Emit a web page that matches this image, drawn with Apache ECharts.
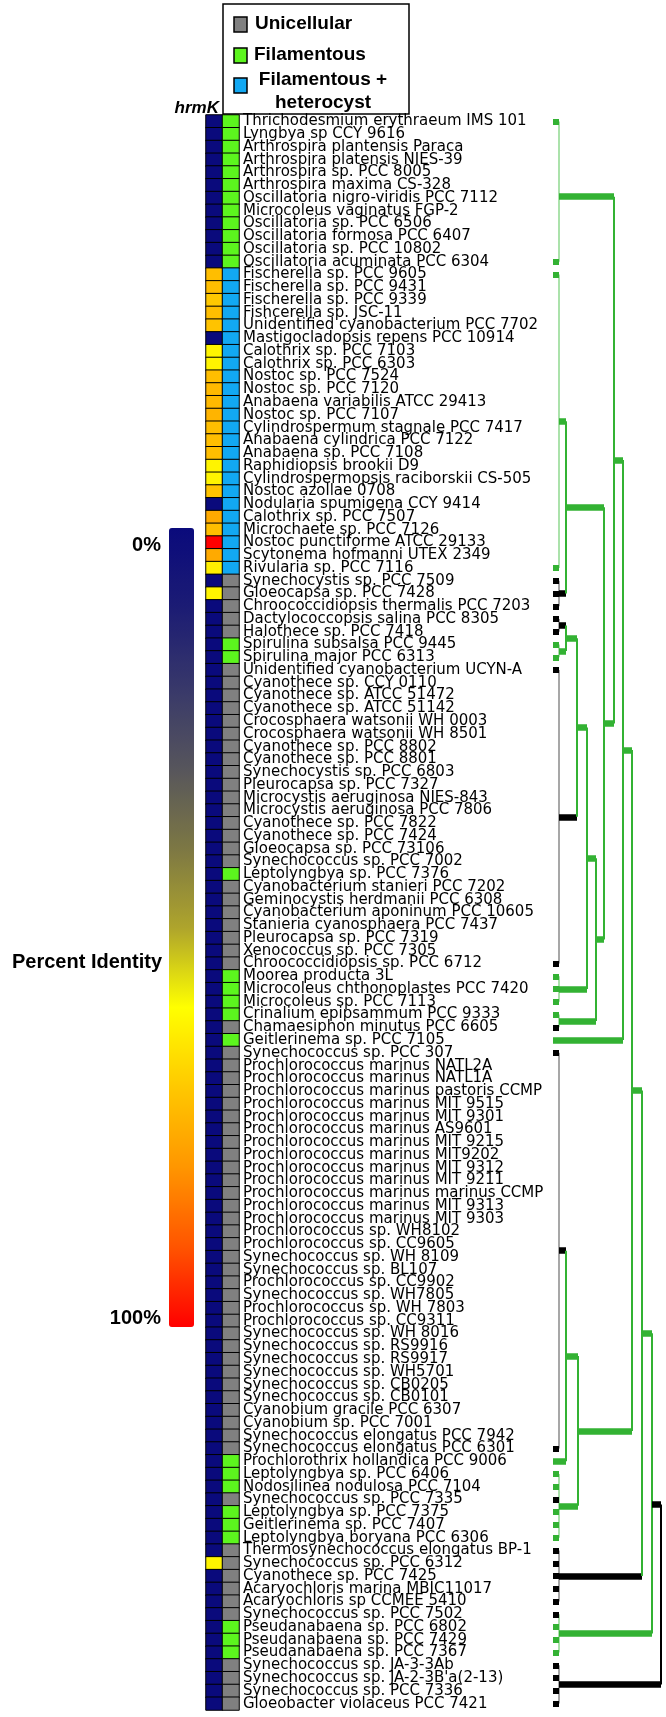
<!DOCTYPE html>
<html><head><meta charset="utf-8">
<script src="https://cdn.jsdelivr.net/npm/echarts@6/dist/echarts.min.js"></script>
<style>html,body{margin:0;padding:0;background:#fff}#c{width:666px;height:1717px}</style>
</head><body><div id="c"></div>
<script>
// ---------------- data ----------------
const names = [
"Thrichodesmium erythraeum IMS 101","Lyngbya sp CCY 9616","Arthrospira plantensis Paraca","Arthrospira platensis NIES-39",
"Arthrospira sp. PCC 8005","Arthrospira maxima CS-328","Oscillatoria nigro-viridis PCC 7112","Microcoleus vaginatus FGP-2",
"Oscillatoria sp. PCC 6506","Oscillatoria formosa PCC 6407","Oscillatoria sp. PCC 10802","Oscillatoria acuminata PCC 6304",
"Fischerella sp. PCC 9605","Fischerella sp. PCC 9431","Fischerella sp. PCC 9339","Fishcerella sp. JSC-11",
"Unidentified cyanobacterium PCC 7702","Mastigocladopsis repens PCC 10914","Calothrix sp. PCC 7103","Calothrix sp. PCC 6303",
"Nostoc sp. PCC 7524","Nostoc sp. PCC 7120","Anabaena variabilis ATCC 29413","Nostoc sp. PCC 7107",
"Cylindrospermum stagnale PCC 7417","Anabaena cylindrica PCC 7122","Anabaena sp. PCC 7108","Raphidiopsis brookii D9",
"Cylindrospermopsis raciborskii CS-505","Nostoc azollae 0708","Nodularia spumigena CCY 9414","Calothrix sp. PCC 7507",
"Microchaete sp. PCC 7126","Nostoc punctiforme ATCC 29133","Scytonema hofmanni UTEX 2349","Rivularia sp. PCC 7116",
"Synechocystis sp. PCC 7509","Gloeocapsa sp. PCC 7428","Chroococcidiopsis thermalis PCC 7203","Dactylococcopsis salina PCC 8305",
"Halothece sp. PCC 7418","Spirulina subsalsa PCC 9445","Spirulina major PCC 6313","Unidentified cyanobacterium UCYN-A",
"Cyanothece sp. CCY 0110","Cyanothece sp. ATCC 51472","Cyanothece sp. ATCC 51142","Crocosphaera watsonii WH 0003",
"Crocosphaera watsonii WH 8501","Cyanothece sp. PCC 8802","Cyanothece sp. PCC 8801","Synechocystis sp. PCC 6803",
"Pleurocapsa sp. PCC 7327","Microcystis aeruginosa NIES-843","Microcystis aeruginosa PCC 7806","Cyanothece sp. PCC 7822",
"Cyanothece sp. PCC 7424","Gloeocapsa sp. PCC 73106","Synechococcus sp. PCC 7002","Leptolyngbya sp. PCC 7376",
"Cyanobacterium stanieri PCC 7202","Geminocystis herdmanii PCC 6308","Cyanobacterium aponinum PCC 10605","Stanieria cyanosphaera PCC 7437",
"Pleurocapsa sp. PCC 7319","Xenococcus sp. PCC 7305","Chroococcidiopsis sp. PCC 6712","Moorea producta 3L",
"Microcoleus chthonoplastes PCC 7420","Microcoleus sp. PCC 7113","Crinalium epipsammum PCC 9333","Chamaesiphon minutus PCC 6605",
"Geitlerinema sp. PCC 7105","Synechococcus sp. PCC 307","Prochlorococcus marinus NATL2A","Prochlorococcus marinus NATL1A",
"Prochlorococcus marinus pastoris CCMP","Prochlorococcus marinus MIT 9515","Prochlorococcus marinus MIT 9301","Prochlorococcus marinus AS9601",
"Prochlorococcus marinus MIT 9215","Prochlorococcus marinus MIT9202","Prochlorococcus marinus MIT 9312","Prochlorococcus marinus MIT 9211",
"Prochlorococcus marinus marinus CCMP","Prochlorococcus marinus MIT 9313","Prochlorococcus marinus MIT 9303","Prochlorococcus sp. WH8102",
"Prochlorococcus sp. CC9605","Synechococcus sp. WH 8109","Synechococcus sp. BL107","Prochlorococcus sp. CC9902",
"Synechococcus sp. WH7805","Prochlorococcus sp. WH 7803","Prochlorococcus sp. CC9311","Synechococcus sp. WH 8016",
"Synechococcus sp. RS9916","Synechococcus sp. RS9917","Synechococcus sp. WH5701","Synechococcus sp. CB0205",
"Synechococcus sp. CB0101","Cyanobium gracile PCC 6307","Cyanobium sp. PCC 7001","Synechococcus elongatus PCC 7942",
"Synechococcus elongatus PCC 6301","Prochlorothrix hollandica PCC 9006","Leptolyngbya sp. PCC 6406","Nodosilinea nodulosa PCC 7104",
"Synechococcus sp. PCC 7335","Leptolyngbya sp. PCC 7375","Geitlerinema sp. PCC 7407","Leptolyngbya boryana PCC 6306",
"Thermosynechococcus elongatus BP-1","Synechococcus sp. PCC 6312","Cyanothece sp. PCC 7425","Acaryochloris marina MBIC11017",
"Acaryochloris sp CCMEE 5410","Synechococcus sp. PCC 7502","Pseudanabaena sp. PCC 6802","Pseudanabaena sp. PCC 7429",
"Pseudanabaena sp. PCC 7367","Synechococcus sp. JA-3-3Ab","Synechococcus sp. JA-2-3B'a(2-13)","Synechococcus sp. PCC 7336",
"Gloeobacter violaceus PCC 7421"];

// hrmK percent identity (0-100)
const hrmK = [
0,0,0,0,0,0,0,0,0,0,0,0,
72,72,70,72,71,0,62,62,72,73,73,74,72,72,72,62,62,71,0,76,72,100,76,63,
0,62,0,0,0,0,0,0,0,0,0,0,0,0,0,0,0,0,0,0,0,0,0,0,0,0,0,0,0,0,0,0,0,0,0,0,0,
0,0,0,0,0,0,0,0,0,0,0,0,0,0,0,0,0,0,0,0,0,0,0,0,0,0,0,0,0,0,0,0,0,0,0,0,0,0,0,0,62,
0,0,0,0,0,0,0,0,0,0,0,0,0];

// morphology: 0 unicellular, 1 filamentous, 2 filamentous + heterocyst
const morph = [
1,1,1,1,1,1,1,1,1,1,1,1,
2,2,2,2,2,2,2,2,2,2,2,2,2,2,2,2,2,2,2,2,2,2,2,2,
0,0,0,0,0,1,1,0,0,0,0,0,0,0,0,0,0,0,0,0,0,0,0,1,0,0,0,0,0,0,0,
1,1,1,1,0,1,
0,0,0,0,0,0,0,0,0,0,0,0,0,0,0,0,0,0,0,0,0,0,0,0,0,0,0,0,0,0,0,0,
1,1,1,0,1,1,1,
0,0,0,0,0,0,1,1,1,0,0,0,0];

const morphNames = ['Unicellular', 'Filamentous', 'Filamentous +', 'heterocyst'];
const morphColors = ['#808080', '#5cf51e', '#12a8f2'];
const identityColors = ['#0a0a7c','#1c1c74','#38386a','#56555c','#7c7744','#aea42c','#ffff00','#ffc800','#ff9600','#ff5400','#ff0000'];
const scaleLabels = ['0%', '100%', 'Percent Identity'];

// dendrogram
// clade: [firstRow, lastRow, colour, anchorRow(optional)]   (rows 1-based)
// node:  {d: depth, bar: colour of branch to parent, vert: colour of vertical, at: anchorRow(optional), kids: [...]}
const cladeFil = [1, 12, 'g', 6.9];
const cladeHet = [13, 36, 'g'];
const cladeA = [37, 39, 'k'];
const cladeB = [40, 41, 'k'];
const cladeSpir = [42, 43, 'g'];
const cladeUni = [44, 67, 'k'];
const cladeMic = [68, 70, 'g'];
const cladeCri = [71, 72, 'g'];
const cladeGei = [73, 73, 'g'];
const cladeMar = [74, 105, 'k'];
const cladePro = [106, 106, 'g'];
const cladeLep = [107, 112, 'g'];
const cladeThe = [113, 117, 'k'];
const cladePse = [118, 121, 'g'];
const cladeGlo = [122, 125, 'k'];

const n7c = { d: 7, bar: 'g', vert: 'g', kids: [cladeB, cladeSpir] };
const n18 = { d: 18, bar: 'g', vert: 'g', kids: [n7c, cladeUni] };
const n28 = { d: 28, bar: 'g', vert: 'g', kids: [n18, cladeMic] };
const n37 = { d: 37, bar: 'g', vert: 'g', kids: [n28, cladeCri] };
const n7a = { d: 7, bar: 'g', vert: 'g', kids: [cladeHet, cladeA] };
const n45 = { d: 45, bar: 'g', vert: 'g', kids: [n7a, n37] };
const n55 = { d: 55, bar: 'g', vert: 'g', kids: [cladeFil, n45] };
const n64 = { d: 64, bar: 'g', vert: 'g', kids: [n55, cladeGei] };
const n7b = { d: 7, bar: 'g', vert: 'g', kids: [cladeMar, cladePro] };
const n19 = { d: 19, bar: 'g', vert: 'g', kids: [n7b, cladeLep] };
const n73 = { d: 73, bar: 'g', vert: 'g', kids: [n64, n19] };
const n83 = { d: 83, bar: 'g', vert: 'g', kids: [n73, cladeThe] };
const n93 = { d: 93, bar: 'k', vert: 'g', at: 109.4, kids: [n83, cladePse] };
const root = { d: 102, bar: 'k', vert: 'k', kids: [n93, cladeGlo] };

// ---------------- build ----------------
const COL = { g: '#33b233', k: '#000000' };
const THIN = { g: '#8fd88f', k: '#8a8a8a' };
const TIP = -6;
const segs = [];
function build(node, parentDepth) {
  if (Array.isArray(node)) {
    const a = node[0] - 1, b = node[1] - 1;
    const y = node[3] != null ? node[3] - 1 : (a + b) / 2;
    if (b > a) {
      segs.push({ coords: [[0, a], [0, b]], lineStyle: { width: 1.5, color: THIN[node[2]], opacity: 1 } });
      const tips = [];
      if (b - a + 1 <= 6) { for (let r = a; r <= b; r++) tips.push(r); } else { tips.push(a, b); }
      tips.forEach(r => segs.push({ coords: [[TIP, r], [0, r]],
        lineStyle: { width: 6, color: morph[r] === 0 ? COL.k : COL.g, opacity: 1 } }));
    }
    segs.push({ coords: [[b > a ? 0 : TIP, y], [parentDepth, y]], lineStyle: { width: 6.5, color: COL[node[2]], opacity: 1 } });
    return y;
  }
  const ys = node.kids.map(c => build(c, node.d));
  const y0 = ys[0], y1 = ys[ys.length - 1];
  segs.push({ coords: [[node.d, y0], [node.d, y1]], lineStyle: { width: 2, color: COL[node.vert], opacity: 1 } });
  const y = node.at != null ? node.at - 1 : (y0 + y1) / 2;
  if (parentDepth != null) segs.push({ coords: [[node.d, y], [parentDepth, y]], lineStyle: { width: 6.5, color: COL[node.bar], opacity: 1 } });
  return y;
}
build(root, null);

const chart = echarts.init(document.getElementById('c'), null, { renderer: 'canvas' });
const N = names.length;
const TOP = 115, H = 1595;
const F = '"Liberation Sans", Arial, sans-serif';

const legendGraphics = [
  { type: 'rect', shape: { x: 223, y: 4, width: 186, height: 110 }, style: { fill: '#fff', stroke: '#000', lineWidth: 1.5 } },
  { type: 'rect', shape: { x: 234, y: 17, width: 13, height: 15 }, style: { fill: morphColors[0], stroke: '#000', lineWidth: 1.5 } },
  { type: 'rect', shape: { x: 234, y: 48, width: 13, height: 15 }, style: { fill: morphColors[1], stroke: '#000', lineWidth: 1.5 } },
  { type: 'rect', shape: { x: 234, y: 78, width: 13, height: 15 }, style: { fill: morphColors[2], stroke: '#000', lineWidth: 1.5 } },
  { type: 'text', x: 255, y: 24, style: { text: morphNames[0], font: 'bold 19px ' + F, fill: '#000', textVerticalAlign: 'middle' } },
  { type: 'text', x: 254, y: 55, style: { text: morphNames[1], font: 'bold 19px ' + F, fill: '#000', textVerticalAlign: 'middle' } },
  { type: 'text', x: 323, y: 80, style: { text: morphNames[2], font: 'bold 19px ' + F, fill: '#000', textAlign: 'center', textVerticalAlign: 'middle' } },
  { type: 'text', x: 323, y: 103, style: { text: morphNames[3], font: 'bold 19px ' + F, fill: '#000', textAlign: 'center', textVerticalAlign: 'middle' } },
  { type: 'text', x: 219, y: 108, style: { text: 'hrmK', font: 'italic bold 17px ' + F, fill: '#000', textAlign: 'right', textVerticalAlign: 'middle' } },
  { type: 'text', x: 161, y: 545, style: { text: scaleLabels[0], font: 'bold 20px ' + F, fill: '#000', textAlign: 'right', textVerticalAlign: 'middle' } },
  { type: 'text', x: 161, y: 1318, style: { text: scaleLabels[1], font: 'bold 20px ' + F, fill: '#000', textAlign: 'right', textVerticalAlign: 'middle' } },
  { type: 'text', x: 162, y: 962, style: { text: scaleLabels[2], font: 'bold 20px ' + F, fill: '#000', textAlign: 'right', textVerticalAlign: 'middle' } }
];

chart.setOption({
  animation: false,
  backgroundColor: '#fff',
  grid: [
    { left: 206, top: TOP, width: 33, height: H },
    { left: 540, top: TOP, width: 126, height: H }
  ],
  xAxis: [
    { type: 'category', gridIndex: 0, data: ['hrmK', 'morph'], show: false },
    { type: 'value', gridIndex: 1, min: -19, max: 107, show: false }
  ],
  yAxis: [
    { type: 'category', gridIndex: 0, data: names, inverse: true, position: 'right',
      axisLine: { show: false }, axisTick: { show: false }, splitLine: { show: false },
      axisLabel: { interval: 0, margin: 4, hideOverlap: false, color: '#000', fontFamily: 'DejaVu Sans', fontSize: 15, align: 'left' } },
    { type: 'value', gridIndex: 1, min: -0.5, max: N - 0.5, inverse: true, show: false }
  ],
  visualMap: [
    { type: 'continuous', seriesIndex: 0, dimension: 2, min: 0, max: 100, inverse: true, calculable: false, realtime: false,
      orient: 'vertical', left: 169, top: 528, itemWidth: 25, itemHeight: 799, padding: 0, text: null,
      inRange: { color: identityColors } },
    { type: 'piecewise', seriesIndex: 1, dimension: 2, show: false,
      pieces: [ { value: 0, color: morphColors[0] }, { value: 1, color: morphColors[1] }, { value: 2, color: morphColors[2] } ] }
  ],
  series: [
    { type: 'heatmap', xAxisIndex: 0, yAxisIndex: 0, data: hrmK.map((v, i) => [0, i, v]),
      itemStyle: { borderColor: '#000', borderWidth: 1 }, emphasis: { disabled: true } },
    { type: 'heatmap', xAxisIndex: 0, yAxisIndex: 0, data: morph.map((v, i) => [1, i, v]),
      itemStyle: { borderColor: '#000', borderWidth: 1 }, emphasis: { disabled: true } },
    { type: 'lines', coordinateSystem: 'cartesian2d', xAxisIndex: 1, yAxisIndex: 1, polyline: false,
      data: segs, silent: true, lineStyle: { opacity: 1 } }
  ],
  graphic: legendGraphics
});
</script></body></html>
